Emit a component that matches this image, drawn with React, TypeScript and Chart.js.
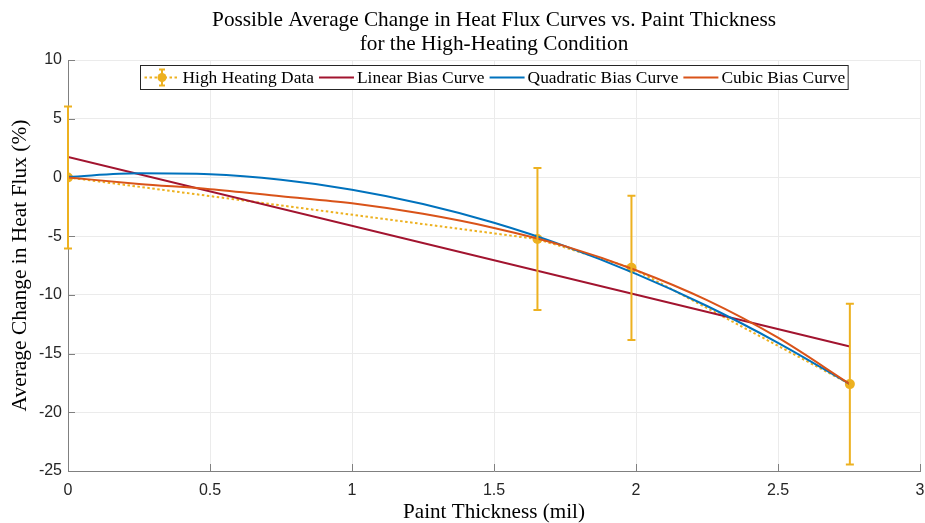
import React, { useEffect, useRef } from "react";
import { Chart, registerables } from "chart.js";

Chart.register(...registerables);

// ---- data ----
const thickness = [0, 1.653, 1.984, 2.753];
const heatChange = [0, -5.25, -7.7, -17.6];
const heatError = [6.05, 6.05, 6.15, 6.85];

const linearX = [0, 2.753];
const linearY = [1.75, -14.4];

const curveX = [0, 0.25, 0.5, 0.75, 1, 1.25, 1.5, 1.75, 2, 2.25, 2.5, 2.753];
const quadY = [0.05, 0.35, 0.27, -0.2, -1.04, -2.26, -3.86, -5.85, -8.21, -10.95, -14.08, -17.6];
const cubicY = [0, -0.55, -1.0, -1.6, -2.2, -3.1, -4.3, -5.85, -7.9, -10.45, -13.65, -17.6];

const titleLines = [
  "Possible Average Change in Heat Flux Curves vs. Paint Thickness",
  "for the High-Heating Condition",
];
const xLabel = "Paint Thickness (mil)";
const yLabel = "Average Change in Heat Flux (%)";
const seriesNames = ["High Heating Data", "Linear Bias Curve", "Quadratic Bias Curve", "Cubic Bias Curve"];
const seriesColors = ["#EDB120", "#A2142F", "#0072BD", "#D95319"];

const SERIF = '"Liberation Serif", "DejaVu Serif", serif';
const SANS = '"Liberation Sans", Arial, sans-serif';

function fitSize(ctx: CanvasRenderingContext2D, text: string, family: string, target: number) {
  ctx.font = `100px ${family}`;
  const w = ctx.measureText(text).width;
  return (100 * target) / w;
}

const pts = (xs: number[], ys: number[]) => xs.map((x, i) => ({ x, y: ys[i] }));

const customPlugin = {
  id: "customDraw",
  beforeDatasetsDraw(chart: any) {
    const ctx = chart.ctx as CanvasRenderingContext2D;
    const xs = chart.scales.x;
    const ys = chart.scales.y;
    const ca = chart.chartArea;
    ctx.save();
    ctx.strokeStyle = "#808080";
    ctx.lineWidth = 1;
    ctx.beginPath();
    xs.ticks.forEach((t: any) => {
      const p = Math.round(xs.getPixelForValue(t.value)) + 0.5;
      ctx.moveTo(p, ca.bottom);
      ctx.lineTo(p, ca.bottom - 7);
    });
    ys.ticks.forEach((t: any) => {
      const p = Math.round(ys.getPixelForValue(t.value)) + 0.5;
      ctx.moveTo(ca.left, p);
      ctx.lineTo(ca.left + 7, p);
    });
    ctx.stroke();
    ctx.restore();
  },
  afterDatasetsDraw(chart: any) {
    const ctx = chart.ctx as CanvasRenderingContext2D;
    const xs = chart.scales.x;
    const ys = chart.scales.y;
    ctx.save();
    ctx.strokeStyle = seriesColors[0];
    ctx.lineWidth = 2;
    ctx.setLineDash([]);
    thickness.forEach((xv, i) => {
      const px = xs.getPixelForValue(xv);
      const top = ys.getPixelForValue(heatChange[i] + heatError[i]);
      const bot = ys.getPixelForValue(heatChange[i] - heatError[i]);
      ctx.beginPath();
      ctx.moveTo(px, top);
      ctx.lineTo(px, bot);
      ctx.moveTo(px - 4, top);
      ctx.lineTo(px + 4, top);
      ctx.moveTo(px - 4, bot);
      ctx.lineTo(px + 4, bot);
      ctx.stroke();
    });
    ctx.restore();
  },
  afterDraw(chart: any) {
    const ctx = chart.ctx as CanvasRenderingContext2D;
    const ca = chart.chartArea;
    const cx = (ca.left + ca.right) / 2;
    ctx.save();
    ctx.fillStyle = "#000000";
    ctx.textAlign = "center";
    ctx.textBaseline = "middle";
    // title
    const ts = fitSize(ctx, titleLines[0], SERIF, 564);
    ctx.font = `${ts}px ${SERIF}`;
    ctx.fillText(titleLines[0], cx, 20);
    ctx.fillText(titleLines[1], cx, 44);
    // x label
    const xsz = fitSize(ctx, xLabel, SERIF, 182);
    ctx.font = `${xsz}px ${SERIF}`;
    ctx.fillText(xLabel, cx, 512);
    // y label
    const ysz = fitSize(ctx, yLabel, SERIF, 292);
    ctx.font = `${ysz}px ${SERIF}`;
    ctx.translate(20, (ca.top + ca.bottom) / 2);
    ctx.rotate(-Math.PI / 2);
    ctx.fillText(yLabel, 0, 0);
    ctx.restore();

    // legend
    ctx.save();
    const ls = fitSize(ctx, seriesNames[2], SERIF, 151);
    ctx.font = `${ls}px ${SERIF}`;
    const sample = 35;
    const widths = seriesNames.map((n) => ctx.measureText(n).width);
    const total = 4 + widths.reduce((a, w) => a + sample + 3 + w, 0) + 3 * 5 + 3;
    const bx = Math.round(cx - total / 2) + 0.5;
    const by = ca.top + 5.5;
    const bh = 24;
    ctx.fillStyle = "#ffffff";
    ctx.fillRect(bx, by, total, bh);
    ctx.strokeStyle = "#262626";
    ctx.lineWidth = 1;
    ctx.strokeRect(bx, by, total, bh);
    let x = bx + 4;
    const my = by + bh / 2;
    seriesNames.forEach((name, i) => {
      ctx.strokeStyle = seriesColors[i];
      ctx.lineWidth = 2;
      ctx.beginPath();
      if (i === 0) ctx.setLineDash([2.5, 2.5]);
      else ctx.setLineDash([]);
      ctx.moveTo(x, my);
      ctx.lineTo(x + sample, my);
      ctx.stroke();
      ctx.setLineDash([]);
      if (i === 0) {
        const mx = x + sample / 2;
        ctx.beginPath();
        ctx.moveTo(mx, my - 8);
        ctx.lineTo(mx, my + 8);
        ctx.moveTo(mx - 3, my - 8);
        ctx.lineTo(mx + 3, my - 8);
        ctx.moveTo(mx - 3, my + 8);
        ctx.lineTo(mx + 3, my + 8);
        ctx.stroke();
        ctx.fillStyle = seriesColors[0];
        ctx.beginPath();
        ctx.arc(mx, my, 4.5, 0, Math.PI * 2);
        ctx.fill();
      }
      x += sample + 3;
      ctx.fillStyle = "#000000";
      ctx.textAlign = "left";
      ctx.textBaseline = "middle";
      ctx.fillText(name, x, my + 1);
      x += widths[i] + 5;
    });
    ctx.restore();
  },
};

export default function App() {
  const canvasRef = useRef<HTMLCanvasElement | null>(null);

  useEffect(() => {
    document.body.style.margin = "0";
    const canvas = canvasRef.current;
    if (!canvas) return;
    const tickFont = { family: SANS, size: 16 };
    const fmt = (v: any) => String(v);
    const chart = new Chart(canvas, {
      type: "scatter",
      data: {
        datasets: [
          {
            label: seriesNames[0],
            data: pts(thickness, heatChange),
            showLine: true,
            borderColor: seriesColors[0],
            backgroundColor: seriesColors[0],
            borderWidth: 2,
            borderDash: [2.5, 2.5],
            pointRadius: 5,
            pointBorderWidth: 0,
            order: 4,
          },
          {
            label: seriesNames[1],
            data: pts(linearX, linearY),
            showLine: true,
            borderColor: seriesColors[1],
            borderWidth: 2,
            pointRadius: 0,
            order: 3,
          },
          {
            label: seriesNames[2],
            data: pts(curveX, quadY),
            showLine: true,
            borderColor: seriesColors[2],
            borderWidth: 2,
            pointRadius: 0,
            cubicInterpolationMode: "monotone",
            order: 2,
          },
          {
            label: seriesNames[3],
            data: pts(curveX, cubicY),
            showLine: true,
            borderColor: seriesColors[3],
            borderWidth: 2,
            pointRadius: 0,
            cubicInterpolationMode: "monotone",
            order: 1,
          },
        ],
      } as any,
      options: {
        animation: false,
        responsive: true,
        maintainAspectRatio: false,
        layout: { padding: { top: 60, right: 0, left: 0, bottom: 0 } },
        plugins: {
          legend: { display: false },
          tooltip: { enabled: false },
          title: { display: false },
        },
        scales: {
          x: {
            type: "linear",
            min: 0,
            max: 3,
            ticks: { stepSize: 0.5, font: tickFont, color: "#262626", padding: 10, maxRotation: 0, callback: fmt },
            grid: { color: "#ebebeb", drawTicks: false, lineWidth: 1 },
            border: { display: true, color: "#808080", width: 1 },
            afterFit: (s: any) => {
              s.height = 52;
              s.paddingRight = 4;
              s.paddingLeft = 0;
            },
          },
          y: {
            type: "linear",
            min: -25,
            max: 10,
            ticks: { stepSize: 5, font: tickFont, color: "#262626", padding: 6, callback: fmt },
            grid: { color: "#ebebeb", drawTicks: false, lineWidth: 1 },
            border: { display: true, color: "#808080", width: 1 },
            afterFit: (s: any) => {
              s.width = 68;
              s.paddingTop = 0;
              s.paddingBottom = 0;
            },
          },
        },
      } as any,
      plugins: [customPlugin as any],
    });
    return () => chart.destroy();
  }, []);

  return (
    <div style={{ position: "fixed", left: 0, top: 0, width: 925, height: 523, background: "#fff" }}>
      <canvas ref={canvasRef} />
    </div>
  );
}
